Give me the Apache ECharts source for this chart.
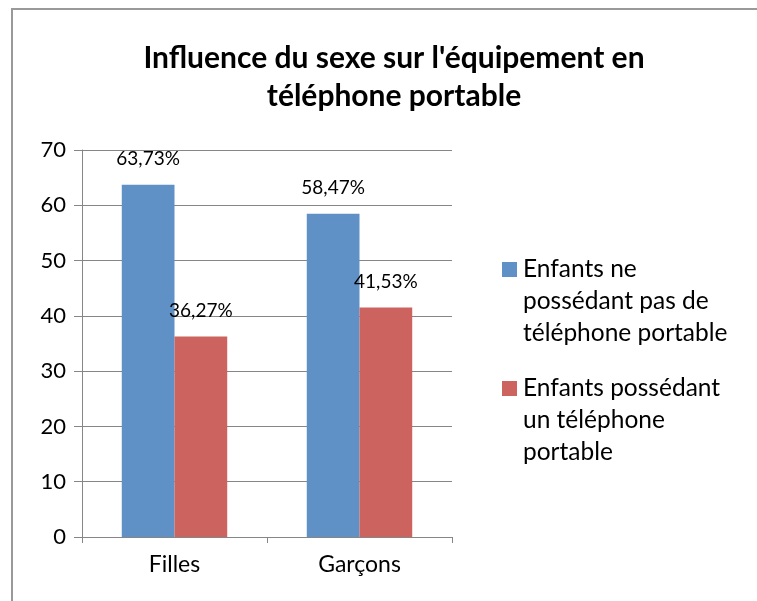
<!DOCTYPE html>
<html>
<head>
<meta charset="utf-8">
<script src="https://cdn.jsdelivr.net/npm/echarts@6/dist/echarts.min.js"></script>
<style>
  html, body { margin: 0; padding: 0; background: #fff; }
  #chart { width: 757px; height: 601px; }
</style>
</head>
<body>
<div id="chart"></div>
<script>
const categories = ['Filles', 'Garçons']
const seriesNames = [
  'Enfants ne possédant pas de téléphone portable',
  'Enfants possédant un téléphone portable'
]
const legendLines = [
  ['Enfants ne', 'possédant pas de', 'téléphone portable'],
  ['Enfants possédant', 'un téléphone', 'portable']
]
const sansTel = [63.73, 58.47]
const avecTel = [36.27, 41.53]
const yTicks = [0, 10, 20, 30, 40, 50, 60, 70]
const colors = ['#5f91c6', '#cc635e']

const FONT = 'Lato, "Open Sans", sans-serif'
const LH = 32

function pct(v) {
  return v.toFixed(2).replace('.', ',') + '%'
}

const chart = echarts.init(document.getElementById('chart'))

// légende : carré sur la première ligne du texte
function legendFor(i, top) {
  return {
    orient: 'vertical',
    left: 497,
    top: top,
    padding: 0,
    data: [seriesNames[i]],
    icon: 'none',
    itemWidth: 0,
    itemHeight: 14,
    selectedMode: false,
    formatter: () => legendLines[i]
      .map((l, k) => (k === 0 ? '{sq|}' : '{ind|}') + '{t|' + l + '}')
      .join('\n'),
    textStyle: {
      rich: {
        sq: { width: 15, height: 15, backgroundColor: colors[i], lineHeight: LH },
        ind: { width: 15, height: 15, lineHeight: LH },
        t: {
          fontFamily: FONT,
          fontSize: 24.5,
          color: '#000',
          lineHeight: LH,
          padding: [0, 0, 0, 6]
        }
      }
    }
  }
}

chart.setOption({
  animation: false,
  title: {
    text: "Influence du sexe sur l'équipement en\ntéléphone portable",
    left: 389,
    textAlign: 'center',
    top: 34,
    textStyle: {
      fontFamily: FONT,
      fontWeight: 'bold',
      fontSize: 30,
      lineHeight: 38,
      color: '#000'
    }
  },
  legend: [legendFor(0, 257), legendFor(1, 376)],
  grid: { left: 82, right: 305, top: 150, bottom: 64 },
  xAxis: {
    type: 'category',
    data: categories,
    axisLine: { lineStyle: { color: '#868686', width: 1 } },
    axisTick: { show: true, length: 6, alignWithLabel: false, lineStyle: { color: '#868686' } },
    axisLabel: { fontFamily: FONT, fontSize: 23, color: '#000', margin: 16 }
  },
  yAxis: {
    type: 'value',
    min: yTicks[0],
    max: yTicks[yTicks.length - 1],
    interval: 10,
    axisLine: { show: true, lineStyle: { color: '#868686', width: 1 } },
    axisTick: { show: true, inside: false, length: 8, lineStyle: { color: '#868686' } },
    splitLine: { lineStyle: { color: '#868686', width: 1 } },
    axisLabel: { fontFamily: FONT, fontSize: 22, color: '#000', margin: 16 }
  },
  series: [
    {
      name: seriesNames[0],
      type: 'bar',
      data: sansTel,
      barGap: '0%',
      barCategoryGap: '43%',
      itemStyle: { color: colors[0] },
      label: {
        show: true,
        position: 'top',
        distance: 16,
        formatter: p => pct(p.value),
        fontFamily: FONT,
        fontSize: 19,
        color: '#000'
      }
    },
    {
      name: seriesNames[1],
      type: 'bar',
      data: avecTel,
      itemStyle: { color: colors[1] },
      label: {
        show: true,
        position: 'top',
        distance: 16,
        formatter: p => pct(p.value),
        fontFamily: FONT,
        fontSize: 19,
        color: '#000'
      }
    }
  ],
  graphic: [
    {
      type: 'rect',
      shape: { x: 12, y: 9, width: 800, height: 700 },
      style: { fill: 'none', stroke: '#999', lineWidth: 2 },
      silent: true
    }
  ]
})
</script>
</body>
</html>
